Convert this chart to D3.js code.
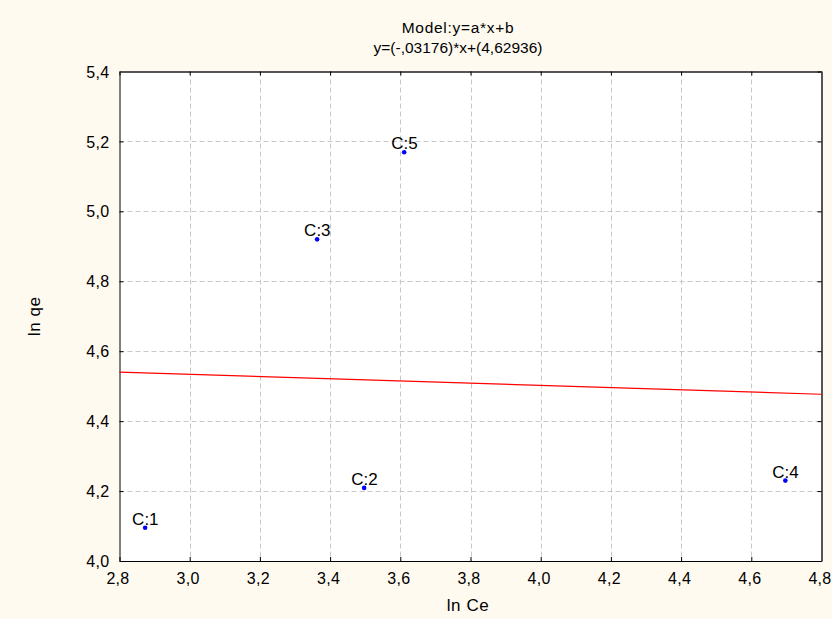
<!DOCTYPE html>
<html><head><meta charset="utf-8">
<script src="https://cdn.jsdelivr.net/npm/d3@7"></script>
<style>
html,body{margin:0;padding:0;background:#fffaf0;}
svg{display:block;font-family:Arial,"Liberation Sans",sans-serif;}
</style></head>
<body>
<script>
const labels = ["C:1","C:2","C:3","C:4","C:5"];
const lnCe = [2.873, 3.497, 3.363, 4.697, 3.611];
const lnQe = [4.095, 4.209, 4.920, 4.230, 5.169];
const xTicks = [2.8,3.0,3.2,3.4,3.6,3.8,4.0,4.2,4.4,4.6,4.8];
const yTicks = [4.0,4.2,4.4,4.6,4.8,5.0,5.2,5.4];
const slope = -0.03176, intercept = 4.62936;
const titleLines = ["Model:y=a*x+b", "y=(-,03176)*x+(4,62936)"];
const xLabel = "ln Ce", yLabel = "ln qe";

(function(){
const W = 832, H = 619;
const m = {left:119.5, right:W-821.5, top:71.5, bottom:H-561};
const svg = d3.select("body").append("svg").attr("width",W).attr("height",H);
svg.append("rect").attr("width",W).attr("height",H).attr("fill","#fffaf0");

const x = d3.scaleLinear().domain([2.8,4.8]).range([m.left, W-m.right]);
const y = d3.scaleLinear().domain([4.0,5.4]).range([H-m.bottom, m.top]);
const fmt = d => d3.format(".1f")(d).replace(".", ",");

svg.append("rect").attr("x",m.left).attr("y",m.top)
  .attr("width",x(4.8)-x(2.8)).attr("height",y(4.0)-y(5.4)).attr("fill","#fff");

// grid
const g = svg.append("g");
g.selectAll(".vg").data(xTicks.slice(1,-1)).join("line")
  .attr("x1",d=>Math.round(x(d))+0.5).attr("x2",d=>Math.round(x(d))+0.5)
  .attr("y1",y(5.4)).attr("y2",y(4.0))
  .attr("stroke","#c8c8c8").attr("stroke-dasharray","5,3");
g.selectAll(".hg").data(yTicks.slice(1,-1)).join("line")
  .attr("y1",d=>Math.round(y(d))+0.5).attr("y2",d=>Math.round(y(d))+0.5)
  .attr("x1",x(2.8)).attr("x2",x(4.8))
  .attr("stroke","#c8c8c8").attr("stroke-dasharray","5,3");

// axes (inner ticks)
const axB = svg.append("g").attr("transform",`translate(0,${y(4.0)})`)
  .call(d3.axisBottom(x).tickValues(xTicks).tickFormat(fmt).tickSizeInner(-4).tickSizeOuter(0).tickPadding(12));
const axL = svg.append("g").attr("transform",`translate(${x(2.8)},0)`)
  .call(d3.axisLeft(y).tickValues(yTicks).tickFormat(fmt).tickSizeInner(-4).tickSizeOuter(0).tickPadding(10));
const axT = svg.append("g").attr("transform",`translate(0,${y(5.4)})`)
  .call(d3.axisTop(x).tickValues(xTicks).tickFormat("").tickSizeInner(-4).tickSizeOuter(0));
const axR = svg.append("g").attr("transform",`translate(${x(4.8)},0)`)
  .call(d3.axisRight(y).tickValues(yTicks).tickFormat("").tickSizeInner(-4).tickSizeOuter(0));
[axB,axL,axT,axR].forEach(a=>{
  a.attr("font-size",null).attr("font-family",null);
  a.selectAll("text").style("font-size","16px").style("letter-spacing","0.3px").attr("fill","#000");
  a.selectAll("line").attr("stroke","#000");
  a.select(".domain").attr("stroke","#000");
});
axB.selectAll("text").attr("dx","-2");
axT.select(".domain").attr("stroke","#555").attr("stroke-width",2);
axR.select(".domain").attr("stroke","#555").attr("stroke-width",2);
axL.selectAll("text").attr("dy","0.35em");

// regression line
svg.append("line")
  .attr("x1",x(2.8)).attr("y1",y(slope*2.8+intercept))
  .attr("x2",x(4.8)).attr("y2",y(slope*4.8+intercept))
  .attr("stroke","#ff0000").attr("stroke-width",1.2);

// points and labels
const pts = labels.map((l,i)=>({l, x:lnCe[i], y:lnQe[i]}));
svg.selectAll(".pt").data(pts).join("circle")
  .attr("cx",d=>x(d.x)).attr("cy",d=>y(d.y)).attr("r",2.3).attr("fill","#0000ff");
svg.selectAll(".lb").data(pts).join("text")
  .attr("x",d=>x(d.x)-13).attr("y",d=>y(d.y)-3)
  .style("font-size","17px").attr("fill","#000").text(d=>d.l);

// titles
svg.selectAll(".tt").data(titleLines).join("text")
  .attr("x",458).attr("y",(d,i)=>33+i*20)
  .attr("text-anchor","middle").style("font-size","15.5px")
  .style("letter-spacing",(d,i)=>i===0?"0.7px":"0px").text(d=>d);
svg.append("text").attr("x",468).attr("y",611)
  .attr("text-anchor","middle").style("font-size","17px").style("letter-spacing","0.6px").text(xLabel);
svg.append("text").attr("transform",`translate(40,${(y(4.0)+y(5.4))/2}) rotate(-90)`)
  .attr("text-anchor","middle").style("font-size","17px").style("letter-spacing","0.6px").text(yLabel);
})();
</script>
</body></html>
